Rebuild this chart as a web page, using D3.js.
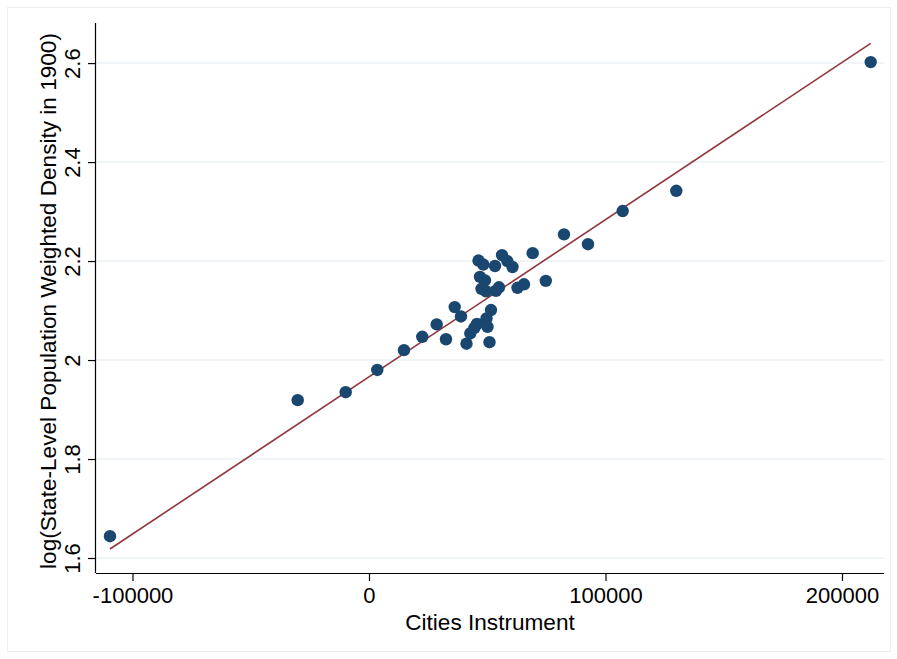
<!DOCTYPE html>
<html>
<head>
<meta charset="utf-8">
<script src="https://cdn.jsdelivr.net/npm/d3@7"></script>
<style>
  html, body { margin: 0; padding: 0; background: #fff; }
  svg { display: block; }
  text { font-family: "Liberation Sans", Arial, Helvetica, sans-serif; fill: #000; }
</style>
</head>
<body>
<svg id="chart" width="897" height="659"></svg>
<script>
// Data
const citiesInstrument = [
  -109513, -30148, -9852, 3509, 14799, 22537, 28626, 32558, 36236, 38900,
  41226, 42833, 44609, 45666, 46300, 48330, 46934, 49049, 47568, 49471,
  53699, 54968, 53277, 49683, 50105, 51585, 50951, 56236, 58478, 60676,
  62790, 65539, 69217, 74756, 82452, 92600, 107272, 129936, 212130
];
const logDensity1900 = [
  1.644, 1.919, 1.935, 1.980, 2.020, 2.047, 2.072, 2.042, 2.107, 2.088,
  2.033, 2.054, 2.065, 2.073, 2.201, 2.193, 2.168, 2.161, 2.144, 2.139,
  2.140, 2.147, 2.190, 2.084, 2.067, 2.101, 2.036, 2.212, 2.200, 2.188,
  2.146, 2.153, 2.216, 2.160, 2.254, 2.234, 2.301, 2.342, 2.602
];
const xTicks = [-100000, 0, 100000, 200000];
const yTicks = [1.6, 1.8, 2.0, 2.2, 2.4, 2.6];
const fitIntercept = 1.966;
const fitSlope = 3.176e-6;

const points = citiesInstrument.map((x, i) => ({ x, y: logDensity1900[i] }));

const svg = d3.select("#chart");
const plot = { left: 96, right: 884, top: 23, bottom: 573 };
const FS = 22;

// outer graph region border
svg.append("rect")
  .attr("x", 7.5).attr("y", 7.5)
  .attr("width", 883).attr("height", 644)
  .attr("fill", "#fff")
  .attr("stroke", "#eaeff1").attr("stroke-width", 1);

const x = d3.scaleLinear().domain([-115430, 217760]).range([plot.left, plot.right]);
const y = d3.scaleLinear().domain([1.5697, 2.681]).range([plot.bottom, plot.top]);

// grid lines
svg.append("g")
  .selectAll("line")
  .data(yTicks)
  .join("line")
  .attr("x1", plot.left).attr("x2", plot.right)
  .attr("y1", d => y(d)).attr("y2", d => y(d))
  .attr("stroke", "#eaf2f3").attr("stroke-width", 1.5);

// fit line
const xMin = d3.min(citiesInstrument), xMax = d3.max(citiesInstrument);
svg.append("line")
  .attr("x1", x(xMin)).attr("y1", y(fitIntercept + fitSlope * xMin))
  .attr("x2", x(xMax)).attr("y2", y(fitIntercept + fitSlope * xMax))
  .attr("stroke", "#90353b").attr("stroke-width", 1.6);

// points
svg.append("g")
  .selectAll("circle")
  .data(points)
  .join("circle")
  .attr("cx", d => x(d.x))
  .attr("cy", d => y(d.y))
  .attr("r", 6.2)
  .attr("fill", "#1a476f");

// x axis
const xAxis = d3.axisBottom(x).tickValues(xTicks).tickSize(8).tickPadding(6)
  .tickFormat(d3.format("d"));
const gx = svg.append("g").attr("transform", `translate(0,${plot.bottom})`).call(xAxis);
gx.select(".domain").attr("d", `M${plot.left},0.5H${plot.right}`).attr("stroke", "#000").attr("stroke-width", 1.2);
gx.selectAll(".tick line").attr("stroke", "#000").attr("stroke-width", 1.2);
gx.selectAll(".tick text").attr("font-size", FS).attr("font-family", "Liberation Sans, Arial, sans-serif")
  .text(d => d < 0 ? "-" + Math.abs(d) : d);

// y axis
const yAxis = d3.axisLeft(y).tickValues(yTicks).tickSize(8).tickPadding(8)
  .tickFormat(d => d === 2 ? "2" : d3.format(".1f")(d));
const gy = svg.append("g").attr("transform", `translate(${plot.left},0)`).call(yAxis);
gy.select(".domain").attr("d", `M-0.5,${plot.top}V${plot.bottom}`).attr("stroke", "#000").attr("stroke-width", 1.2);
gy.selectAll(".tick line").attr("stroke", "#000").attr("stroke-width", 1.2);
gy.selectAll(".tick text")
  .attr("font-size", FS).attr("font-family", "Liberation Sans, Arial, sans-serif")
  .attr("x", null).attr("dy", null)
  .attr("text-anchor", "middle")
  .attr("transform", "translate(-16,0) rotate(-90)");

// axis titles
svg.append("text")
  .attr("x", 490)
  .attr("y", 630)
  .attr("text-anchor", "middle")
  .attr("font-size", 22.6)
  .text("Cities Instrument");

svg.append("text")
  .attr("transform", `translate(56,301) rotate(-90)`)
  .attr("text-anchor", "middle")
  .attr("font-size", 22.6)
  .text("log(State-Level Population Weighted Density in 1900)");
</script>
</body>
</html>
